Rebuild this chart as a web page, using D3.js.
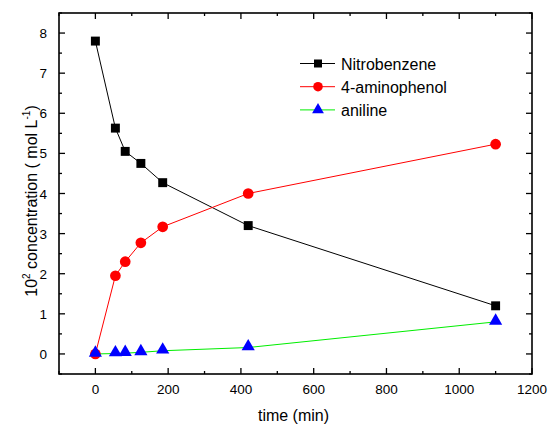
<!DOCTYPE html>
<html>
<head>
<meta charset="utf-8">
<title>concentration vs time</title>
<script src="https://cdn.jsdelivr.net/npm/d3@7"></script>
<style>
  body { margin: 0; background: #fff; }
  text { font-family: Arial, "Liberation Sans", sans-serif; fill: #000; }
</style>
</head>
<body>
<script>
// data
var times = [0, 55, 82, 125, 185, 420, 1100];
var nitrobenzene = [7.8, 5.63, 5.05, 4.75, 4.27, 3.2, 1.2];
var aminophenol = [0, 1.95, 2.3, 2.77, 3.17, 4.0, 5.23];
var aniline = [0, 0.01, 0.02, 0.04, 0.08, 0.16, 0.8];
var xTicks = [0, 200, 400, 600, 800, 1000, 1200];
var yTicks = [0, 1, 2, 3, 4, 5, 6, 7, 8];
var seriesNames = ['Nitrobenzene', '4-aminophenol', 'aniline'];

var width = 549, height = 429;
var margin = {left: 59, top: 13, right: 17, bottom: 55};

var svg = d3.select('body').append('svg')
    .attr('width', width)
    .attr('height', height);

var x = d3.scaleLinear().domain([-100, 1200]).range([margin.left, width - margin.right]);
var y = d3.scaleLinear().domain([-0.5, 8.5]).range([height - margin.bottom, margin.top]);

var x0 = margin.left, x1 = width - margin.right;
var y0 = height - margin.bottom, y1 = margin.top;

/* ticks: inside, on all four sides */
var xMinor = d3.range(-100, 1201, 100);
var yMinor = d3.range(-0.5, 8.51, 0.5);

var tg = svg.append('g').attr('stroke', '#000').attr('stroke-width', 1.3);
xMinor.forEach(function(v) {
    var len = (v % 200 === 0) ? 6 : 3;
    tg.append('line').attr('x1', x(v)).attr('x2', x(v)).attr('y1', y0).attr('y2', y0 - len);
    tg.append('line').attr('x1', x(v)).attr('x2', x(v)).attr('y1', y1).attr('y2', y1 + len);
});
yMinor.forEach(function(v) {
    var len = (Math.abs(v % 1) < 1e-6) ? 6 : 3;
    tg.append('line').attr('y1', y(v)).attr('y2', y(v)).attr('x1', x0).attr('x2', x0 + len);
    tg.append('line').attr('y1', y(v)).attr('y2', y(v)).attr('x1', x1).attr('x2', x1 - len);
});

/* frame */
svg.append('rect')
    .attr('x', x0).attr('y', y1)
    .attr('width', x1 - x0).attr('height', y0 - y1)
    .attr('fill', 'none').attr('stroke', '#000').attr('stroke-width', 1.6);

/* tick labels */
svg.selectAll('.xl').data(xTicks).enter().append('text')
    .attr('x', function(d) { return x(d); })
    .attr('y', y0 + 20)
    .attr('text-anchor', 'middle')
    .attr('font-size', '13.5px')
    .text(function(d) { return d; });

svg.selectAll('.yl').data(yTicks).enter().append('text')
    .attr('x', x0 - 12)
    .attr('y', function(d) { return y(d) + 5; })
    .attr('text-anchor', 'end')
    .attr('font-size', '13.5px')
    .text(function(d) { return d; });

/* axis titles */
svg.append('text')
    .attr('x', (x0 + x1) / 2 - 2)
    .attr('y', y0 + 47)
    .attr('text-anchor', 'middle')
    .attr('font-size', '16px')
    .text('time (min)');

var yt = svg.append('text')
    .attr('transform', 'translate(37,' + 201 + ') rotate(-90)')
    .attr('text-anchor', 'middle')
    .attr('font-size', '16px');
yt.append('tspan').text('10');
yt.append('tspan').attr('font-size', '10px').attr('dy', -7).text('2');
yt.append('tspan').attr('dy', 7).text(' concentration ( mol L');
yt.append('tspan').attr('font-size', '10px').attr('dy', -7).text('-1');
yt.append('tspan').attr('dy', 7).text(')');

/* series */
var series = [
    {name: seriesNames[0], values: nitrobenzene, line: '#000000', fill: '#000000', symbol: d3.symbolSquare, size: 80},
    {name: seriesNames[1], values: aminophenol, line: '#ff0000', fill: '#ff0000', symbol: d3.symbolCircle, size: 90},
    {name: seriesNames[2], values: aniline, line: '#00ee00', fill: '#0000ff', symbol: d3.symbolTriangle, size: 75}
];

var line = d3.line()
    .x(function(d) { return x(d[0]); })
    .y(function(d) { return y(d[1]); });

series.forEach(function(s) {
    var pts = times.map(function(t, i) { return [t, s.values[i]]; });
    svg.append('path')
        .attr('d', line(pts))
        .attr('fill', 'none')
        .attr('stroke', s.line)
        .attr('stroke-width', 1);
});

series.forEach(function(s) {
    var pts = times.map(function(t, i) { return [t, s.values[i]]; });
    svg.selectAll(null).data(pts).enter().append('path')
        .attr('d', d3.symbol().type(s.symbol).size(s.size))
        .attr('transform', function(d) {
            var dy = s.symbol === d3.symbolTriangle ? -1 : 0;
            return 'translate(' + x(d[0]) + ',' + (y(d[1]) + dy) + ')';
        })
        .attr('fill', s.fill);
});

/* legend */
var lg = svg.append('g');
series.forEach(function(s, i) {
    var ly = 63.5 + i * 23.2;
    lg.append('line').attr('x1', 300).attr('x2', 335).attr('y1', ly).attr('y2', ly)
        .attr('stroke', s.line).attr('stroke-width', 1);
    lg.append('path')
        .attr('d', d3.symbol().type(s.symbol).size(s.size * 0.8))
        .attr('transform', 'translate(318,' + ly + ')')
        .attr('fill', s.fill);
    lg.append('text')
        .attr('x', 341).attr('y', ly + 6)
        .attr('font-size', '16px')
        .text(s.name);
});
</script>
</body>
</html>
